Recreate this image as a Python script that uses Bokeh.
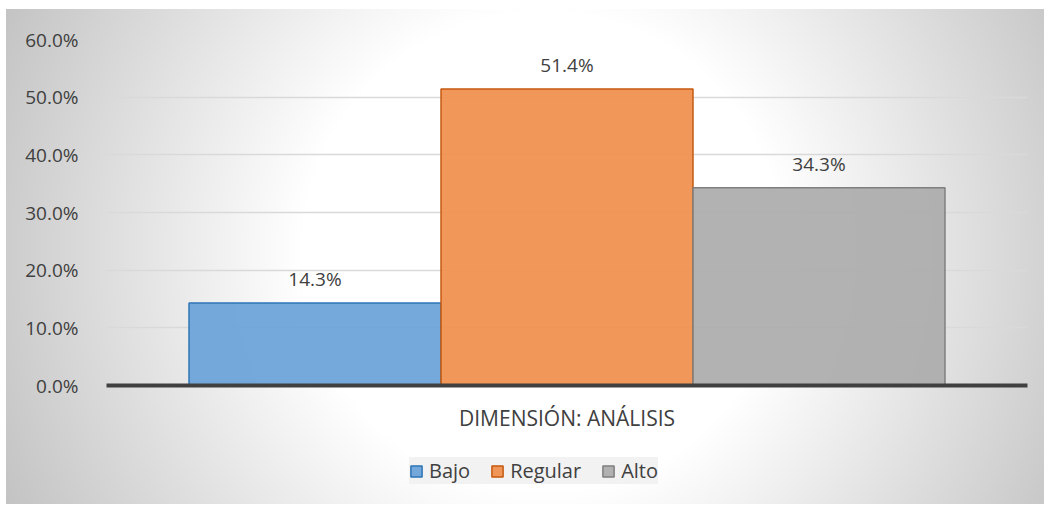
from bokeh.plotting import figure
from bokeh.layouts import column
from bokeh.models import ColumnDataSource, FactorRange, Range1d, PrintfTickFormatter, FixedTicker, Legend, LegendItem
from bokeh.transform import dodge
from bokeh.core.properties import value
from bokeh.embed import file_html
from bokeh.resources import INLINE

category = ["DIMENSIÓN: ANÁLISIS"]
series_names = ["Bajo", "Regular", "Alto"]
series_values = [14.3, 51.4, 34.3]
y_ticks = [0, 10, 20, 30, 40, 50, 60]

fills = ["#6ba3d9", "#f08f4d", "#acacac"]
lines = ["#2e75b6", "#c55a11", "#7f7f7f"]
offsets = [-0.2736, 0.0, 0.2736]
bar_w = 0.2736

FONT = "Open Sans"
TXT = "#404040"
W = 1044

p = figure(
    width=W, height=434,
    x_range=FactorRange(factors=category, range_padding=0),
    y_range=Range1d(0, 60),
    output_backend="svg", toolbar_location=None,
    min_border_left=106, min_border_right=17, min_border_top=39, min_border_bottom=48,
)
p.background_fill_alpha = 0
p.border_fill_alpha = 0
p.outline_line_color = None

# legend strip underneath (own figure, no axes)
lg = figure(width=W, height=70, x_range=FactorRange(factors=category), y_range=Range1d(0, 60),
            output_backend="svg", toolbar_location=None,
            x_axis_type=None, y_axis_type=None,
            min_border_left=0, min_border_right=0, min_border_top=0, min_border_bottom=0)
lg.background_fill_alpha = 0
lg.border_fill_alpha = 0
lg.outline_line_color = None
lg.xgrid.visible = False
lg.ygrid.visible = False

items = []
for name, val, fc, lc, off in zip(series_names, series_values, fills, lines, offsets):
    src = ColumnDataSource(dict(cat=category, v=[val], lbl=[f"{val:.1f}%"]))
    p.vbar(x=dodge("cat", off, range=p.x_range), top="v", width=bar_w, source=src,
           fill_color=fc, fill_alpha=0.93, line_color=lc, line_width=1.5)
    p.text(x=dodge("cat", off, range=p.x_range), y="v", text="lbl", source=src,
           y_offset=-24, text_align="center", text_baseline="middle",
           text_font=value(FONT), text_font_size="19px", text_color=TXT)
    key = lg.vbar(x="cat", top="v", width=0.1, source=src, fill_color=fc, fill_alpha=0.93,
                  line_color=lc, line_width=1.5, visible=False)
    items.append(LegendItem(label=name, renderers=[key]))

legend = Legend(items=items, orientation="horizontal", location=(303, 20),
                label_text_font=FONT, label_text_font_size="20px", label_text_color=TXT,
                glyph_width=14, glyph_height=14, label_standoff=6, spacing=20,
                label_height=25, padding=10, margin=0,
                inactive_fill_alpha=0,
                background_fill_color="#f0f0f0", background_fill_alpha=0.85,
                border_line_color=None)
lg.add_layout(legend, "center")

p.yaxis.ticker = FixedTicker(ticks=y_ticks)
p.yaxis.formatter = PrintfTickFormatter(format="%.1f%%")
p.yaxis.axis_line_color = None
p.yaxis.major_tick_line_color = None
p.yaxis.minor_tick_line_color = None
p.yaxis.major_label_standoff = 22
p.yaxis.major_label_text_font = FONT
p.yaxis.major_label_text_font_size = "19px"
p.yaxis.major_label_text_color = TXT

p.xaxis.axis_line_color = "#404040"
p.xaxis.axis_line_width = 4
p.xaxis.major_tick_line_color = None
p.xaxis.minor_tick_line_color = None
p.xaxis.major_label_standoff = 12
p.xaxis.major_label_text_font = FONT
p.xaxis.major_label_text_font_size = "21px"
p.xaxis.major_label_text_color = TXT

p.xgrid.grid_line_color = None
p.ygrid.grid_line_color = "#d9d9d9"
p.ygrid.grid_line_width = 1.5

page = column(p, lg, spacing=0)
page.styles = {
    "background-image": (
        "linear-gradient(to right, #ffffff 6px, rgba(255,255,255,0) 6px), "
        "linear-gradient(to bottom, #ffffff 9px, rgba(255,255,255,0) 9px), "
        "radial-gradient(circle farthest-corner at 52% 50%, #ffffff 0%, #ffffff 40%, #c2c2c2 100%)"
    ),
}

open("out.html", "w").write(file_html(page, INLINE))
